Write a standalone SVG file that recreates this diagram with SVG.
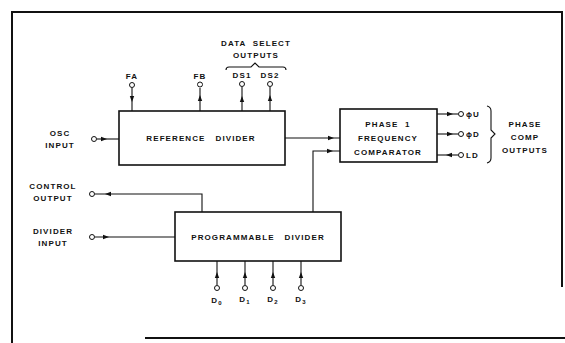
<svg xmlns="http://www.w3.org/2000/svg" width="565" height="343" viewBox="0 0 565 343">
<style>
text{font-family:"Liberation Sans",Arial,sans-serif;font-size:8px;font-weight:bold;fill:#111;letter-spacing:1.1px;white-space:pre}
.box{fill:#fff;stroke:#111;stroke-width:1.6}
.ln{fill:none;stroke:#111;stroke-width:1.1}
.frame{fill:none;stroke:#111;stroke-width:2}
.pin{fill:#fff;stroke:#111;stroke-width:1}
.m{text-anchor:middle}
</style>
<defs>
<path id="ar" d="M-3,-2.2 L3,0 L-3,2.2Z" fill="#111"/>
</defs>
<rect width="565" height="343" fill="#fff"/>
<g id="frame">
<path class="frame" d="M12,343 V12 H562 V287"/>
<path class="frame" d="M145,338 H565"/>
</g>
<g id="connectors">
<path class="ln" d="M132,88 V111"/><use href="#ar" transform="translate(132,99) rotate(90)"/>
<path class="ln" d="M200,88 V111"/><use href="#ar" transform="translate(200,98) rotate(-90)"/>
<path class="ln" d="M242,87 V111"/><use href="#ar" transform="translate(242,99) rotate(-90)"/>
<path class="ln" d="M270,87 V111"/><use href="#ar" transform="translate(270,98) rotate(-90)"/>
<path class="ln" d="M97,139 H119"/><use href="#ar" transform="translate(104,139)"/>
<path class="ln" d="M285,138 H340"/><use href="#ar" transform="translate(331,138)"/>
<path class="ln" d="M313,212 V151 H340"/><use href="#ar" transform="translate(330,151)"/>
<path class="ln" d="M437,114 H458"/><use href="#ar" transform="translate(450,114)"/>
<path class="ln" d="M437,134 H458"/><use href="#ar" transform="translate(450,134)"/>
<path class="ln" d="M437,155 H458"/><use href="#ar" transform="translate(449,155) rotate(180)"/>
<path class="ln" d="M95,194 H202 V212"/><use href="#ar" transform="translate(108,194) rotate(180)"/>
<path class="ln" d="M95,237 H175"/><use href="#ar" transform="translate(106,237)"/>
<path class="ln" d="M217,261 V285"/><use href="#ar" transform="translate(217,275) rotate(-90)"/>
<path class="ln" d="M245,261 V285"/><use href="#ar" transform="translate(245,275) rotate(-90)"/>
<path class="ln" d="M273,261 V285"/><use href="#ar" transform="translate(273,275) rotate(-90)"/>
<path class="ln" d="M301,261 V285"/><use href="#ar" transform="translate(301,275) rotate(-90)"/>
</g>
<g id="pins">
<circle class="pin" cx="132" cy="85" r="2.5"/>
<circle class="pin" cx="200" cy="84.5" r="2.5"/>
<circle class="pin" cx="242" cy="84" r="2.5"/>
<circle class="pin" cx="270" cy="84" r="2.5"/>
<circle class="pin" cx="94" cy="139" r="2.5"/>
<circle class="pin" cx="461" cy="114" r="2.5"/>
<circle class="pin" cx="461" cy="134" r="2.5"/>
<circle class="pin" cx="461" cy="155" r="2.5"/>
<circle class="pin" cx="92" cy="194" r="2.5"/>
<circle class="pin" cx="92" cy="237" r="2.5"/>
<circle class="pin" cx="217" cy="288" r="2.5"/>
<circle class="pin" cx="245" cy="288" r="2.5"/>
<circle class="pin" cx="273" cy="288" r="2.5"/>
<circle class="pin" cx="301" cy="288" r="2.5"/>
</g>
<g id="ref-divider">
<rect class="box" x="119" y="111" width="166" height="54"/>
<text class="m" x="201" y="141">REFERENCE   DIVIDER</text>
</g>
<g id="phase-comparator">
<rect class="box" x="340" y="109" width="97" height="53"/>
<text class="m" x="388" y="127">PHASE  1</text>
<text class="m" x="388" y="141">FREQUENCY</text>
<text class="m" x="388" y="155">COMPARATOR</text>
</g>
<g id="prog-divider">
<rect class="box" x="175" y="212" width="166" height="49"/>
<text class="m" x="258" y="240">PROGRAMMABLE   DIVIDER</text>
</g>
<g id="labels">
<text class="m" x="132" y="79">FA</text>
<text class="m" x="200" y="79">FB</text>
<text class="m" x="242" y="78">DS1</text>
<text class="m" x="270" y="78">DS2</text>
<path class="ln" d="M226,70 Q226,67 229,67 H251 L255,63 L259,67 H283 Q286,67 286,70"/>
<text class="m" x="256" y="46">DATA  SELECT</text>
<text class="m" x="256" y="58">OUTPUTS</text>
<text class="m" x="60" y="136">OSC</text>
<text class="m" x="60" y="148">INPUT</text>
<text class="m" x="53" y="189">CONTROL</text>
<text class="m" x="53" y="201">OUTPUT</text>
<text class="m" x="53" y="234">DIVIDER</text>
<text class="m" x="53" y="246">INPUT</text>
<text x="466" y="117">ϕU</text>
<text x="466" y="137">ϕD</text>
<text x="466" y="158">LD</text>
<path class="ln" d="M487,106 Q491,107 491,111 V130 L495,134 L491,138 V158 Q491,162 487,163"/>
<text class="m" x="525" y="127">PHASE</text>
<text class="m" x="525" y="140">COMP</text>
<text class="m" x="525" y="153">OUTPUTS</text>
<text class="m" x="217" y="303">D<tspan font-size="6" dy="2">0</tspan></text>
<text class="m" x="245" y="302">D<tspan font-size="6" dy="2">1</tspan></text>
<text class="m" x="273" y="302">D<tspan font-size="6" dy="2">2</tspan></text>
<text class="m" x="301" y="302">D<tspan font-size="6" dy="2">3</tspan></text>
</g>
</svg>
